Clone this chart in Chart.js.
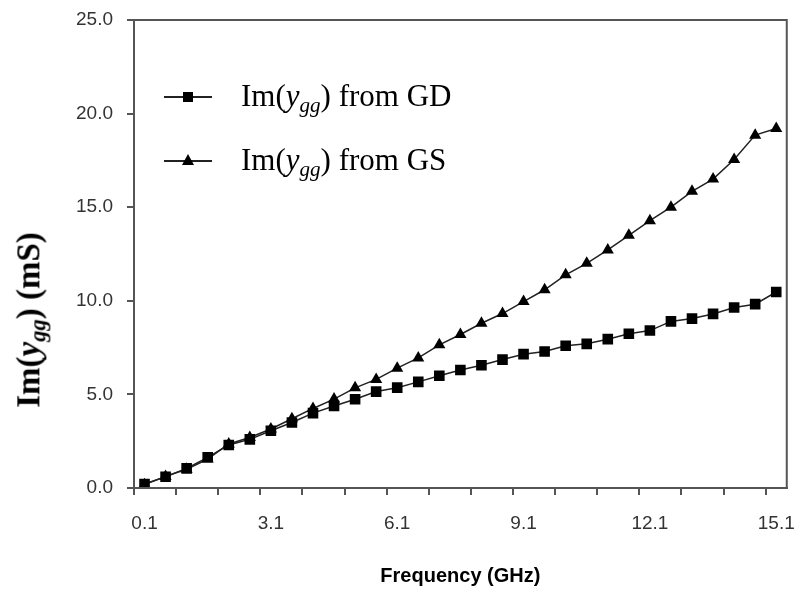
<!DOCTYPE html>
<html>
<head>
<meta charset="utf-8">
<script src="https://cdn.jsdelivr.net/npm/chart.js@4.4.1/dist/chart.umd.min.js"></script>
<style>
  html, body { margin: 0; padding: 0; background: #fff; }
  #wrap { position: relative; width: 812px; height: 592px; background: #fff; overflow: hidden; }
  #c { position: absolute; left: 0; top: 0; }
  .serif { font-family: "Liberation Serif", "Times New Roman", serif; color: #000; }
  #ytitle { position: absolute; left: 31px; top: 320px; transform: translate(-50%, -50%) rotate(-90deg);
            white-space: nowrap; font-weight: bold; font-size: 33px; }
  #ytitle sub, .leg sub { font-size: 0.68em; vertical-align: -0.28em; font-style: italic; }
  .leg { position: absolute; white-space: nowrap; font-size: 31px; line-height: 1; }
  .mk { position: absolute; width: 48px; height: 2px; background: #222; }
  .sq { position: absolute; width: 10px; height: 10px; background: #000; left: 19px; top: -4px; }
  .tri { position: absolute; width: 12px; height: 11px; background: #000; left: 18px; top: -6px;
         clip-path: polygon(50% 0, 100% 100%, 0 100%); }
</style>
</head>
<body>
<div id="wrap">
  <canvas id="c" width="812" height="592"></canvas>
  <div id="ytitle" class="serif">Im(<i>y</i><sub>gg</sub>) (mS)</div>
  <div class="mk" style="left:164px;top:96px;"><div class="sq"></div></div>
  <div class="leg serif" style="left:241px;top:80px;">Im(<i>y</i><sub>gg</sub>) from GD</div>
  <div class="mk" style="left:164px;top:160px;"><div class="tri"></div></div>
  <div class="leg serif" style="left:241px;top:144px;">Im(<i>y</i><sub>gg</sub>) from GS</div>
</div>
<script>
// Frequency categories (GHz)
const frequencies = ['0.1','0.6','1.1','1.6','2.1','2.6','3.1','3.6','4.1','4.6',
                     '5.1','5.6','6.1','6.6','7.1','7.6','8.1','8.6','9.1','9.6',
                     '10.1','10.6','11.1','11.6','12.1','12.6','13.1','13.6','14.1','14.6','15.1'];
// Labelled x ticks
const xTickLabels = ['0.1','3.1','6.1','9.1','12.1','15.1'];
// Im(ygg) from GD (mS)
const imYggGD = [0.21,0.60,1.05,1.64,2.30,2.60,3.06,3.50,4.00,4.38,
                 4.74,5.15,5.36,5.67,6.00,6.30,6.56,6.86,7.15,7.29,
                 7.60,7.70,7.95,8.24,8.41,8.90,9.05,9.30,9.64,9.82,10.47];
// Im(ygg) from GS (mS)
const imYggGS = [0.18,0.62,1.00,1.55,2.35,2.70,3.15,3.70,4.25,4.75,
                 5.35,5.80,6.40,6.95,7.65,8.20,8.80,9.32,9.96,10.59,
                 11.39,12.00,12.72,13.50,14.28,15.00,15.85,16.50,17.55,18.85,19.20];
// Y ticks
const yTicks = [0, 5, 10, 15, 20, 25];

const axisColor = '#555';

const boxPlugin = {
  id: 'box',
  afterDraw(chart) {
    const a = chart.chartArea, ctx = chart.ctx;
    ctx.save();
    ctx.strokeStyle = axisColor;
    ctx.lineWidth = 2;
    ctx.strokeRect(a.left, a.top, a.right - a.left, a.bottom - a.top);
    ctx.restore();
  }
};

new Chart(document.getElementById('c'), {
  type: 'line',
  data: {
    labels: frequencies,
    datasets: [
      { label: 'Im(ygg) from GD', data: imYggGD, borderColor: '#222', borderWidth: 1.5,
        pointStyle: 'rect', pointRadius: 7.5, pointBackgroundColor: '#000', pointBorderColor: '#000',
        pointBorderWidth: 0, tension: 0, fill: false },
      { label: 'Im(ygg) from GS', data: imYggGS, borderColor: '#222', borderWidth: 1.5,
        pointStyle: 'triangle', pointRadius: 7, pointBackgroundColor: '#000', pointBorderColor: '#000',
        pointBorderWidth: 0, tension: 0, fill: false }
    ]
  },
  options: {
    responsive: false,
    animation: false,
    devicePixelRatio: 1,
    layout: { padding: { top: 20, right: 17, left: 0, bottom: 4 } },
    plugins: { legend: { display: false }, tooltip: { enabled: false } },
    scales: {
      x: {
        type: 'category',
        offset: true,
        grid: {
          offset: true, drawOnChartArea: false, drawTicks: true, tickLength: 7, lineWidth: 2,
          tickColor: (ctx) => (ctx.index !== undefined && ctx.index % 2 === 0) ? axisColor : 'rgba(0,0,0,0)'
        },
        border: { color: axisColor, width: 2 },
        ticks: {
          autoSkip: false, maxRotation: 0, minRotation: 0, padding: 17,
          color: '#333', font: { family: 'Liberation Sans, Arial, sans-serif', size: 19 },
          callback: function (v, i) {
            const lab = frequencies[i];
            return xTickLabels.includes(lab) ? lab : '';
          }
        },
        title: { display: true, text: 'Frequency (GHz)', color: '#000', padding: { top: 14, bottom: 0 },
                 font: { family: 'Liberation Sans, Arial, sans-serif', size: 20, weight: 'bold' } },
        afterFit: (s) => { s.height = 100; }
      },
      y: {
        min: 0, max: 25,
        afterBuildTicks: (s) => { s.ticks = yTicks.map(v => ({ value: v })); },
        grid: { drawOnChartArea: false, drawTicks: true, tickLength: 7, color: axisColor, lineWidth: 2 },
        border: { color: axisColor, width: 2 },
        ticks: {
          padding: 14, color: '#333', font: { family: 'Liberation Sans, Arial, sans-serif', size: 19 },
          callback: (v) => Number(v).toFixed(1)
        },
        afterFit: (s) => { s.width = 134; s.paddingTop = 0; s.paddingBottom = 0; }
      }
    }
  },
  plugins: [boxPlugin]
});
</script>
</body>
</html>
